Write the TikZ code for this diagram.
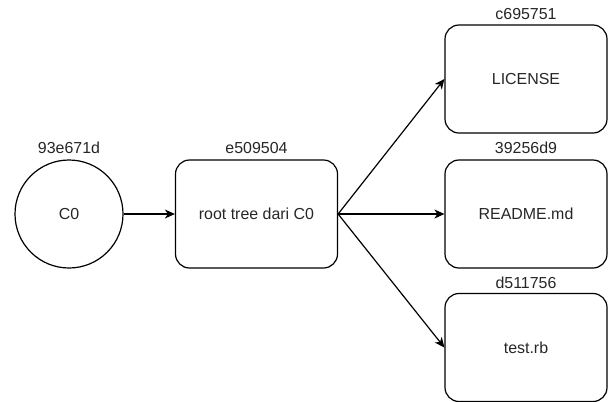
\documentclass[tikz,border=0pt]{standalone}
\usepackage{fontspec}
\setmainfont{Liberation Sans}
\usetikzlibrary{arrows.meta}
\begin{document}
\begin{tikzpicture}[x=1bp,y=-1bp,
  every node/.style={font=\fontsize{16}{19}\selectfont, text=black!85},
  obj/.style={draw, line width=1.2bp, rounded corners=14bp,
    minimum width=162bp, minimum height=108bp, inner sep=0pt},
  commit/.style={draw, line width=1.2bp, circle, minimum size=108bp, inner sep=0pt},
  hash/.style={inner sep=0pt},
  link/.style={line width=1.2bp, -{Stealth[length=10bp,width=9bp,inset=3bp]}}]
  \useasboundingbox (0,0) rectangle (609,401);
  % commit and its root tree
  \node[commit] (c0) at (69,214) {C0};
  \node[hash] (hc0) at (69,148) {93e671d};
  \node[obj] (tree) at (256.5,214) {root tree dari C0};
  \node[hash] (htree) at (256.5,148) {e509504};
  % blobs
  \node[obj] (lic) at (526,79) {LICENSE};
  \node[hash] (hlic) at (526,14) {c695751};
  \node[obj] (readme) at (526,214) {README.md};
  \node[hash] (hreadme) at (526,148) {39256d9};
  \node[obj] (test) at (526,347.5) {test.rb};
  \node[hash] (htest) at (526,283) {d511756};
  % pointers
  \draw[link] (c0.east) -- (tree.west);
  \draw[link] (tree.east) -- (lic.west);
  \draw[link] (tree.east) -- (readme.west);
  \draw[link] (tree.east) -- (test.west);
\end{tikzpicture}
\end{document}
